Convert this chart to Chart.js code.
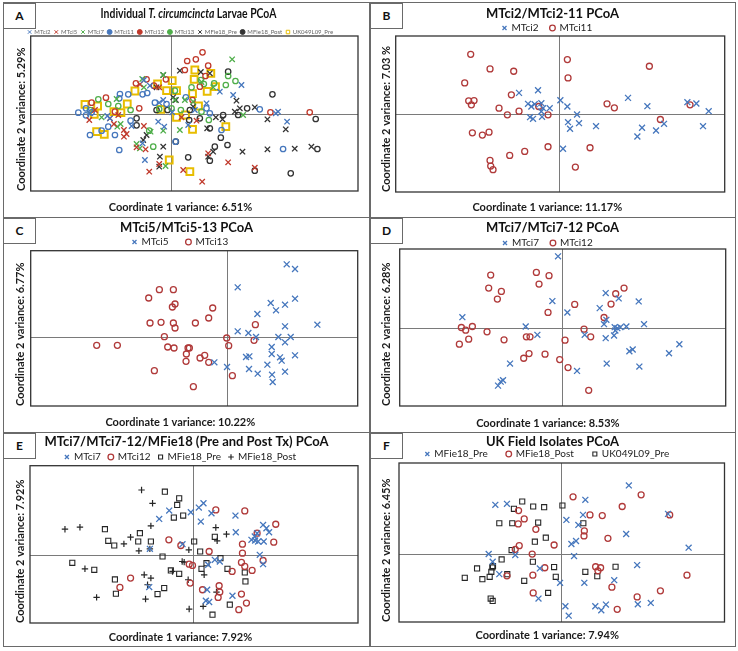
<!DOCTYPE html>
<html>
<head>
<meta charset="utf-8">
<script src="https://cdn.jsdelivr.net/npm/chart.js@4/dist/chart.umd.min.js"></script>
<style>
html, body { margin: 0; padding: 0; background: #fff; }
canvas { position: absolute; }
.line { position: absolute; background: #6a6a6a; }
.frame { position: absolute; box-sizing: border-box; border: 1.5px solid #6a6a6a; }
.letter { position: absolute; box-sizing: border-box; width: 33px; height: 26px; border: 1.5px solid #6a6a6a;
  font: bold 12px Lato, "Liberation Sans", sans-serif; color: #111; text-align: center; line-height: 23px; background: #fff; }
</style>
</head>
<body>
<canvas id="panel-a"></canvas>
<canvas id="panel-b"></canvas>
<canvas id="panel-c"></canvas>
<canvas id="panel-d"></canvas>
<canvas id="panel-e"></canvas>
<canvas id="panel-f"></canvas>

<div class="frame" style="left:2.5px;top:2px;width:733.5px;height:644.5px"></div>
<div class="line" style="left:369.3px;top:3px;width:1.5px;height:643px"></div>
<div class="line" style="left:3px;top:216.5px;width:732px;height:1.5px"></div>
<div class="line" style="left:3px;top:431.5px;width:732px;height:1.5px"></div>
<div class="letter" style="left:3px;top:3px">A</div>
<div class="letter" style="left:370px;top:3px">B</div>
<div class="letter" style="left:3px;top:217.5px">C</div>
<div class="letter" style="left:370px;top:217.5px">D</div>
<div class="letter" style="left:3px;top:432.5px">E</div>
<div class="letter" style="left:370px;top:432.5px">F</div>

<script>
"use strict";

/* PANEL A - individual larvae */
const aRangeX = [-4.21, 5.62];
const aRangeY = [-2.31, 2.34];
const aMtci2 = [[-0.81,1.02],[-0.63,0.85],[2.12,0.87],[1.47,0.67],[1.87,0.57],[3.22,0.07],[3.15,0.02],[3.49,-0.23],[-0.23,0.42],[-0.35,0.34],[-0.20,-0.38],[-0.38,-0.23],[-1.83,-0.13],[-1.91,-0.06],[-0.78,-1.38],[-0.85,-0.88],[0.04,0.05],[0.52,-0.33],[-2.43,0.02],[-1.18,-0.36],[1.07,0.32],[0.72,0.12]];
const aMtci5 = [[-2.45,-0.18],[-1.83,-0.13],[-1.71,-0.30],[-1.41,-0.48],[-1.33,-0.60],[-1.41,-0.68],[-0.81,-0.36],[-1.03,-1.00],[-0.76,-1.06],[-0.65,-1.73],[0.37,-1.68],[0.94,-2.03],[1.72,-1.45],[2.52,-1.61],[1.12,-1.18],[0.77,-0.20],[-0.35,-1.50],[-0.93,0.89],[-0.35,0.80],[0.32,-0.10],[-2.28,0.12],[-1.58,-0.03]];
const aMtci7 = [[1.84,1.64],[-0.86,1.05],[-0.23,1.17],[-0.81,0.80],[-1.63,0.45],[0.12,0.42],[2.17,-0.03],[0.92,0.96],[0.27,-0.48],[-0.61,-0.53],[-1.03,-0.90],[-0.16,-1.56],[-1.61,-0.38],[-1.51,-0.30],[-0.23,-0.50],[0.67,0.37],[-2.08,-0.10],[1.27,0.80],[0.42,0.42],[-0.93,-1.03]];
const aMtci11 = [[-2.78,0.04],[-2.55,-0.04],[-2.38,0.05],[-1.53,0.60],[-1.28,0.59],[-0.85,0.59],[-0.71,0.63],[-2.43,-0.63],[-1.55,-1.08],[-2.08,-0.50],[-1.88,-0.38],[-1.68,-0.63],[-0.48,0.34],[-0.13,0.30],[1.07,0.17],[1.17,0.02],[1.52,-0.48],[2.67,0.14],[3.37,-1.05],[0.14,-0.83],[-1.21,-0.20],[-2.55,0.17],[-1.55,0.47],[0.45,0.50]];
const aMtci12 = [[0.95,1.85],[0.49,1.59],[0.75,1.64],[1.12,1.45],[0.42,1.32],[-1.05,0.92],[-0.73,1.04],[-1.95,0.49],[-2.38,0.34],[-0.95,0.17],[-0.51,0.85],[2.99,0.05],[4.17,0.05],[1.04,1.14],[0.65,0.42],[0.87,0.82],[-1.68,0.07],[-0.15,1.04]];
const aMtci13 = [[-2.18,0.44],[-2.43,0.12],[-1.88,0.30],[-1.21,0.12],[-0.53,-0.98],[0.02,0.17],[1.72,1.14],[1.94,0.99],[1.30,0.92],[1.65,0.87],[0.90,1.02],[0.99,0.90],[0.30,0.12],[0.92,0.07],[1.14,-0.18],[-0.65,-0.50],[-1.58,0.24],[-0.35,0.15],[0.12,0.70],[0.62,0.80]];
const aMfie18Pre = [[0.27,1.30],[-0.23,1.17],[0.90,1.26],[1.17,1.22],[0.15,0.42],[0.07,0.50],[1.97,0.40],[2.07,0.17],[2.52,0.20],[2.90,-0.16],[3.45,-0.46],[1.35,-0.10],[1.55,-0.16],[1.09,-0.43],[1.92,0.07],[-0.73,-0.63],[-0.83,-0.78],[-0.23,-0.98],[-0.33,-1.28],[-0.35,-1.58],[1.27,-1.13],[2.15,-1.13],[2.90,-1.06],[3.72,-1.04],[4.22,-0.98],[1.12,-1.28],[-0.43,0.80],[0.67,0.22]];
const aMfie18Post = [[1.72,1.27],[3.05,0.59],[2.29,0.17],[2.02,-0.03],[4.35,-0.15],[-1.03,-0.13],[-1.03,-0.34],[-0.43,0.12],[-0.10,0.12],[0.57,0.12],[0.55,-0.18],[1.17,-0.43],[1.50,-0.71],[1.70,-0.93],[1.32,-0.98],[1.17,-1.40],[0.52,-1.30],[2.52,-1.70],[3.60,-1.78],[4.40,-1.05],[0.87,-0.13],[0.15,-0.83],[1.57,-0.03]];
const aUk049l09Pre = [[-2.58,0.29],[-2.20,0.24],[-2.30,-0.01],[-1.71,0.07],[-1.31,0.30],[-1.08,0.69],[-1.50,0.04],[-2.23,-0.53],[-2.00,-0.61],[-0.40,0.90],[0.04,1.00],[-0.13,0.70],[0.17,0.70],[0.65,0.61],[0.72,1.32],[0.70,1.04],[1.20,1.22],[1.34,0.82],[1.09,0.68],[0.83,0.24],[-0.30,0.14],[0.17,-0.10],[0.44,-0.03],[0.65,-0.46],[1.65,-0.38],[-0.05,-1.38],[0.57,-1.73]];

/* PANEL B - MTci2 / MTci11 */
const bRangeX = [-4.90, 4.97];
const bRangeY = [-2.35, 2.34];
const bMtci2 = [[-1.20,0.63],[-0.63,0.71],[-0.93,0.30],[-0.73,0.29],[-0.53,0.32],[-0.83,0.22],[-0.48,0.17],[-0.28,0.17],[-0.87,-0.10],[-0.78,-0.15],[-0.51,-0.09],[-0.53,0.07],[0.04,0.41],[0.25,0.22],[0.54,-0.02],[0.27,-0.25],[0.60,-0.28],[0.33,-0.45],[1.11,-0.37],[2.07,0.48],[2.65,0.23],[3.85,0.35],[4.12,0.31],[4.49,0.08],[4.32,-0.37],[3.15,-0.30],[2.91,-0.50],[2.49,-0.42],[2.35,-0.68],[0.12,-1.05]];
const bMtci11 = [[-2.65,1.79],[-2.07,1.35],[-1.36,1.28],[-2.83,0.93],[0.25,1.63],[0.27,1.08],[2.71,1.43],[-1.43,0.57],[-2.71,0.39],[-2.55,0.40],[-2.63,0.27],[-1.80,0.17],[-1.55,-0.03],[-1.20,0.08],[-0.61,0.22],[-0.33,-0.03],[1.44,0.30],[1.66,0.18],[3.93,0.27],[3.04,-0.17],[-2.60,-0.57],[-2.30,-0.64],[-2.10,-0.55],[-0.33,-0.99],[-1.03,-1.13],[-1.48,-1.25],[-2.07,-1.40],[-2.05,-1.57],[-1.98,-1.68],[0.49,-1.60],[0.93,-1.02]];

/* PANEL C - MTci5 / MTci13 */
const cRangeX = [-5.89, 3.92];
const cRangeY = [-2.07, 2.59];
const cMtci5 = [[1.79,2.18],[2.04,2.04],[0.32,1.49],[1.31,1.02],[1.74,0.97],[2.04,1.15],[1.47,0.80],[0.91,0.69],[1.74,0.32],[2.71,0.37],[0.32,0.17],[0.64,0.12],[0.87,0.00],[1.54,0.00],[1.91,0.00],[1.74,-0.16],[1.34,-0.30],[1.34,-0.51],[1.59,-0.61],[1.64,-0.71],[2.04,-0.55],[0.57,-0.60],[0.67,-0.58],[-0.38,-0.76],[0.00,-0.90],[0.66,-0.96],[0.92,-1.10],[1.21,-0.83],[1.35,-1.13],[1.37,-1.35],[1.74,-1.04]];
const cMtci13 = [[-2.03,1.42],[-1.61,1.42],[-2.35,1.17],[-1.56,0.99],[-1.64,0.90],[-0.43,0.87],[-0.55,0.57],[-2.31,0.42],[-1.98,0.44],[-1.61,0.42],[-1.56,0.27],[-0.95,0.42],[-1.88,0.01],[-3.91,-0.25],[-3.29,-0.25],[-1.78,-0.30],[-1.59,-0.33],[-1.17,-0.33],[-1.13,-0.33],[-1.22,-0.51],[-0.67,-0.55],[-0.81,-0.63],[-1.23,-0.73],[-0.55,-0.76],[-2.18,-1.01],[-1.01,-1.49],[-0.01,-0.03],[0.05,-0.26],[0.16,-1.16],[0.85,0.37],[0.81,-0.10]];

/* PANEL D - MTci7 / MTci12 */
const dRangeX = [-4.88, 4.90];
const dRangeY = [-2.35, 2.35];
const dMtci7 = [[-0.13,2.13],[-0.30,0.79],[0.15,0.45],[-3.00,0.31],[-1.10,0.03],[-0.75,-0.22],[1.30,1.03],[1.69,0.87],[2.29,0.78],[1.12,0.58],[1.32,0.23],[1.25,0.10],[1.57,0.01],[1.65,-0.02],[1.74,0.01],[1.92,0.03],[2.45,0.10],[0.67,-0.22],[1.30,-0.32],[1.55,-0.24],[1.59,-0.09],[2.01,-0.71],[2.11,-0.66],[3.20,-0.77],[3.51,-0.50],[1.33,-1.08],[2.31,-1.17],[0.44,-1.30],[-1.57,-1.08],[-1.78,-1.58],[-1.85,-1.62],[-1.93,-1.74]];
const dMtci12 = [[-2.15,1.57],[-0.78,1.65],[-0.40,1.55],[-2.21,1.18],[-1.83,1.08],[-0.70,1.30],[-1.95,0.85],[-0.43,0.45],[0.37,0.69],[-3.03,0.00],[-2.90,-0.08],[-2.70,0.03],[-2.26,-0.13],[-2.81,-0.35],[-3.09,-0.50],[-1.75,-0.37],[-1.08,-0.28],[-0.97,-0.28],[-0.52,-0.80],[-1.00,-0.78],[-1.16,-0.92],[-0.08,-0.96],[0.17,-1.20],[0.08,-0.38],[0.65,-0.05],[0.85,-0.28],[0.79,-1.88],[1.25,0.30],[1.46,0.70],[1.60,1.01],[1.85,1.18]];

/* PANEL E - MTci7 / MTci12 / MFie18 */
const eRangeX = [-4.90, 4.95];
const eRangeY = [-2.05, 2.68];
const eMtci7 = [[-1.02,1.08],[-0.72,1.33],[-0.07,1.28],[0.17,1.42],[0.31,1.55],[0.55,1.25],[0.23,1.00],[1.27,1.18],[1.28,0.68],[2.10,0.90],[2.20,0.80],[2.28,0.68],[1.92,0.65],[1.85,0.55],[1.75,0.45],[1.95,0.40],[2.12,0.40],[1.86,0.43],[2.00,0.00],[2.10,-0.28],[0.80,-0.20],[0.65,-0.15],[0.45,-0.30],[-0.32,0.32],[-1.30,0.18],[-1.32,-0.97],[0.42,-1.05],[0.38,-1.38],[0.48,-1.42],[1.18,-1.23]];
const eMtci12 = [[0.68,1.35],[1.55,1.32],[2.48,0.92],[1.92,0.65],[2.42,0.38],[-0.73,0.45],[-0.37,0.28],[0.48,0.10],[1.48,0.32],[1.48,0.05],[1.45,-0.23],[2.10,-0.17],[1.55,-0.35],[1.77,-0.47],[1.17,-0.50],[-0.12,-0.28],[-0.02,-0.32],[-0.09,-0.85],[0.28,-1.05],[0.78,-0.93],[0.80,-1.12],[0.75,-1.28],[1.45,-1.18],[1.60,-1.45],[1.37,-1.65],[-1.88,-0.70],[-2.20,-0.98]];
const eMfie18Pre = [[-0.85,1.90],[-0.42,1.70],[-0.48,1.50],[-0.58,1.12],[-0.30,1.18],[-2.65,0.77],[-1.60,0.65],[-2.55,0.42],[-2.37,0.28],[-1.65,0.40],[-1.27,0.40],[-0.92,-0.05],[0.03,0.40],[0.21,0.10],[-3.63,-0.24],[-2.97,-0.45],[-0.67,-0.47],[-0.42,-0.57],[-2.35,-0.74],[-2.32,-1.17],[-1.07,-1.18],[-0.87,-1.00],[0.40,-0.25],[0.25,-0.42],[0.82,-0.10],[1.03,-0.42],[1.55,-0.53],[1.57,-0.80],[0.65,0.54],[1.10,-1.50],[0.58,-1.80]];
const eMfie18Post = [[-1.55,1.95],[-1.22,1.55],[-3.85,0.77],[-3.40,0.83],[-1.27,0.87],[-1.88,0.53],[-2.08,0.33],[-1.63,0.12],[-1.30,0.18],[-0.13,0.15],[-0.33,-0.20],[-0.27,-0.22],[-3.25,-0.42],[-1.47,-0.60],[-1.27,-0.70],[-1.37,-0.90],[-0.62,-0.50],[-0.15,-0.75],[-1.43,-1.33],[-2.90,-1.28],[-0.12,-1.63],[0.30,-1.55],[0.33,-0.60],[0.70,-1.12],[0.68,0.82],[1.00,0.62],[0.72,0.42]];

/* PANEL F - UK field isolates */
const fRangeX = [-4.89, 4.91];
const fRangeY = [-2.02, 2.73];
const fMfie18Pre = [[2.03,2.06],[0.72,1.63],[-1.99,1.48],[-1.64,1.51],[0.15,1.03],[0.65,1.18],[0.51,0.88],[3.21,1.21],[3.83,0.20],[1.95,0.61],[0.44,0.40],[0.30,0.31],[0.38,-0.05],[-2.19,0.01],[-2.07,-0.22],[-1.39,-0.02],[-0.65,-0.42],[-1.87,-0.59],[0.69,-0.85],[-0.04,-0.85],[1.59,-0.77],[2.28,-0.32],[-0.69,-1.32],[0.12,-1.55],[0.22,-1.83],[1.02,-1.55],[1.20,-1.67],[1.34,-1.50],[2.30,-1.49],[2.69,-1.45]];
const fMfie18Post = [[0.35,1.72],[2.40,1.78],[1.83,1.43],[-1.29,1.31],[-1.12,1.06],[-1.30,0.91],[-0.77,0.75],[0.86,1.18],[1.23,1.16],[3.26,1.18],[0.69,0.70],[0.68,0.55],[1.40,0.48],[-1.27,0.26],[-1.39,0.15],[-0.22,0.28],[-0.88,0.01],[-0.50,-0.40],[1.03,-0.37],[1.18,-0.40],[1.10,-0.49],[-1.64,-0.64],[-0.86,-0.62],[1.52,-0.98],[-0.85,-1.15],[2.28,-1.27],[2.98,-1.09],[3.78,-0.62],[1.68,-1.64]];
const fUk049l09Pre = [[-1.18,1.58],[-1.43,1.36],[-0.85,1.43],[-0.52,1.41],[0.03,1.46],[-1.87,0.93],[-1.48,0.93],[-0.70,0.95],[0.66,0.93],[-0.47,0.50],[-0.80,0.38],[-1.50,0.13],[-1.80,-0.15],[-0.86,-0.22],[-2.06,-0.35],[-2.08,-0.39],[-2.54,-0.42],[-2.11,-0.52],[-1.63,-0.59],[-2.91,-0.70],[-2.38,-0.74],[-2.16,-0.67],[-1.12,-0.79],[-0.22,-0.38],[-0.17,-0.67],[-0.40,-1.15],[0.72,-0.52],[1.08,-0.65],[1.63,-0.37],[-2.13,-1.32],[-2.07,-1.39]];

const FONT = 'Lato, "Liberation Sans", sans-serif';
const BLUE = "#4677bd";
const RED = "#b03a3a";
const RED_A = "#c0392b";
const GREEN = "#4fae4a";
const BLACK = "#262626";
const GOLD = "#e8bd00";

Chart.defaults.font.family = FONT;

function cross(label, data, color, r) {
	return {label, data, pointStyle: "crossRot", pointRadius: r || 4.2, borderColor: color, backgroundColor: color, borderWidth: 1.3};
}
function ring(label, data, color, r) {
	return {label, data, pointStyle: "circle", pointRadius: r || 3, borderColor: color, backgroundColor: "rgba(0,0,0,0)", borderWidth: 1.3};
}
function square(label, data, color, r, w) {
	return {label, data, pointStyle: "rect", pointRadius: r || 3.6, borderColor: color, backgroundColor: "rgba(0,0,0,0)", borderWidth: w || 1.1};
}
function plus(label, data, color) {
	return {label, data, pointStyle: "cross", pointRadius: 3.2, borderColor: color, backgroundColor: color, borderWidth: 1.2};
}

// panel A legend shows the circle series as small solid dots
function dotLabels(chart) {
	const items = Chart.defaults.plugins.legend.labels.generateLabels(chart);
	items.forEach(item => {
		if (item.pointStyle === "circle") item.fillStyle = item.strokeStyle;
		item.lineWidth = 1;
	});
	return items;
}

// draws the panel title, the plot box and the zero lines
const panelDecor = {
	id: "panelDecor",
	beforeDatasetsDraw(chart, args, opts) {
		const {ctx, chartArea: a} = chart;
		ctx.save();
		ctx.strokeStyle = "#7a7a7a";
		ctx.lineWidth = 1;
		const x0 = Math.round(chart.scales.x.getPixelForValue(0)) + 0.5;
		const y0 = Math.round(chart.scales.y.getPixelForValue(0)) + 0.5;
		ctx.beginPath();
		ctx.moveTo(x0, a.top); ctx.lineTo(x0, a.bottom);
		ctx.moveTo(a.left, y0); ctx.lineTo(a.right, y0);
		ctx.stroke();
		ctx.strokeStyle = "#333";
		ctx.lineWidth = 1.3;
		ctx.strokeRect(a.left, a.top, a.right - a.left, a.bottom - a.top);

		// title, with italic runs
		const runs = opts.title;
		const sx = opts.scaleX || 1;
		ctx.fillStyle = "#111";
		ctx.textBaseline = "middle";
		ctx.textAlign = "left";
		let total = 0;
		runs.forEach(r => {
			ctx.font = r[1] + " 13px " + FONT;
			total += ctx.measureText(r[0]).width;
		});
		ctx.translate(opts.x, opts.y);
		ctx.scale(sx, 1);
		let x = -total / 2;
		runs.forEach(r => {
			ctx.font = r[1] + " 13px " + FONT;
			ctx.fillText(r[0], x, 0);
			x += ctx.measureText(r[0]).width;
		});
		ctx.restore();
	}
};

function drawPanel(p) {
	const canvas = document.getElementById(p.id);
	const [cx, cy, W, H] = p.cell;
	canvas.width = W;
	canvas.height = H;
	canvas.style.left = cx + "px";
	canvas.style.top = cy + "px";

	const plotL = p.plot[0] - cx, plotT = p.plot[1] - cy, plotR = p.plot[2] - cx, plotB = p.plot[3] - cy;
	const axisFont = {size: 11, weight: "bold"};
	const lh = 11 * 1.2;
	const legendTop = (p.legendY - cy) - p.legendPad - p.legendSize / 2;
	const subPad = H - (p.xTitleY - cy) - lh / 2;
	const xAxisHeight = H - (lh + subPad) - plotB;

	const legendLabels = {usePointStyle: true, boxWidth: p.legendBox, boxHeight: p.legendBox, padding: p.legendPad,
		font: {size: p.legendSize}, color: p.legendColor};
	if (p.dotLegend) legendLabels.generateLabels = dotLabels;

	new Chart(canvas.getContext("2d"), {
		type: "scatter",
		data: {datasets: p.datasets},
		options: {
			responsive: false,
			animation: false,
			devicePixelRatio: 1,
			layout: {padding: {top: legendTop, left: 0, right: W - plotR, bottom: 0}},
			plugins: {
				title: {display: false},
				subtitle: {display: true, position: "bottom", text: p.xTitle, font: axisFont, color: "#1a1a1a", padding: {top: 0, bottom: subPad}},
				legend: {position: "top", maxHeight: plotT - legendTop, labels: legendLabels},
				tooltip: {enabled: false},
				panelDecor: {title: p.title, x: W / 2 + (p.titleShift || 0), y: p.titleY - cy, scaleX: p.titleScaleX}
			},
			scales: {
				x: {type: "linear", min: p.rangeX[0], max: p.rangeX[1],
					ticks: {display: false}, grid: {display: false}, border: {display: false},
					afterFit(s) { s.height = xAxisHeight; }},
				y: {type: "linear", min: p.rangeY[0], max: p.rangeY[1],
					ticks: {display: false}, grid: {display: false}, border: {display: false},
					title: {display: true, text: p.yTitle, align: "start", font: axisFont, color: "#1a1a1a",
						padding: {top: (p.yTitleX - cx) - lh / 2, bottom: 0}},
					afterFit(s) { s.width = plotL; }}
			}
		},
		plugins: [panelDecor]
	});
}

drawPanel({
	id: "panel-a", cell: [3, 3, 367, 214], plot: [30.7, 36, 358, 191],
	title: [["Individual ", "bold"], ["T. circumcincta", "italic bold"], [" Larvae PCoA", "bold"]],
	titleY: 14, titleShift: 2, titleScaleX: 0.8, legendY: 32, xTitleY: 207, yTitleX: 21,
	legendSize: 6, legendPad: 4, legendBox: 3.5, legendColor: "#666", dotLegend: true,
	xTitle: "Coordinate 1 variance: 6.51%", yTitle: "Coordinate 2 variance: 5.29%",
	rangeX: aRangeX, rangeY: aRangeY,
	datasets: [
		cross("MTci2", aMtci2, BLUE, 3.8),
		cross("MTci5", aMtci5, RED_A, 3.8),
		cross("MTci7", aMtci7, GREEN, 3.8),
		ring("MTci11", aMtci11, BLUE, 2.7),
		ring("MTci12", aMtci12, RED_A, 2.7),
		ring("MTci13", aMtci13, GREEN, 2.7),
		cross("MFie18_Pre", aMfie18Pre, "#333", 3.8),
		ring("MFie18_Post", aMfie18Post, "#333", 2.7),
		square("UK049L09_Pre", aUk049l09Pre, GOLD, 4.8, 2)
	]
});

drawPanel({
	id: "panel-b", cell: [370, 3, 365, 214], plot: [395.7, 36, 724.7, 192],
	title: [["MTci2/MTci2-11 PCoA", "bold"]],
	titleY: 14, legendY: 28, xTitleY: 207, yTitleX: 386,
	legendSize: 10, legendPad: 12, legendBox: 4, legendColor: "#222",
	xTitle: "Coordinate 1 variance: 11.17%", yTitle: "Coordinate 2 variance: 7.03 %",
	rangeX: bRangeX, rangeY: bRangeY,
	datasets: [cross("MTci2", bMtci2, BLUE), ring("MTci11", bMtci11, RED)]
});

drawPanel({
	id: "panel-c", cell: [3, 217, 367, 215], plot: [30.7, 250.7, 357.7, 406],
	title: [["MTci5/MTci5-13 PCoA", "bold"]],
	titleY: 228, legendY: 242, xTitleY: 422, yTitleX: 20,
	legendSize: 10, legendPad: 18, legendBox: 4, legendColor: "#222",
	xTitle: "Coordinate 1 variance: 10.22%", yTitle: "Coordinate 2 variance: 6.77%",
	rangeX: cRangeX, rangeY: cRangeY,
	datasets: [cross("MTci5", cMtci5, BLUE), ring("MTci13", cMtci13, RED)]
});

drawPanel({
	id: "panel-d", cell: [370, 217, 365, 215], plot: [399.7, 249, 725.7, 406],
	title: [["MTci7/MTci7-12 PCoA", "bold"]],
	titleY: 228, legendY: 243, xTitleY: 423, yTitleX: 386,
	legendSize: 10, legendPad: 12, legendBox: 4, legendColor: "#222",
	xTitle: "Coordinate 1 variance: 8.53%", yTitle: "Coordinate 2 variance: 6.28%",
	rangeX: dRangeX, rangeY: dRangeY,
	datasets: [cross("MTci7", dMtci7, BLUE), ring("MTci12", dMtci12, RED)]
});

drawPanel({
	id: "panel-e", cell: [3, 432, 367, 214], plot: [30, 465.7, 358, 623],
	title: [["MTci7/MTci7-12/MFie18 (Pre and Post Tx) PCoA", "bold"]],
	titleY: 442, legendY: 457, xTitleY: 637, yTitleX: 20,
	legendSize: 10, legendPad: 8, legendBox: 4, legendColor: "#222",
	xTitle: "Coordinate 1 variance: 7.92%", yTitle: "Coordinate 2 variance: 7.92%",
	rangeX: eRangeX, rangeY: eRangeY,
	datasets: [
		cross("MTci7", eMtci7, BLUE),
		ring("MTci12", eMtci12, RED),
		square("MFie18_Pre", eMfie18Pre, BLACK),
		plus("MFie18_Post", eMfie18Post, BLACK)
	]
});

drawPanel({
	id: "panel-f", cell: [370, 432, 365, 214], plot: [399, 463, 724.5, 622],
	title: [["UK Field Isolates PCoA", "bold"]],
	titleY: 442, legendY: 454, xTitleY: 635, yTitleX: 386,
	legendSize: 10, legendPad: 19, legendBox: 4, legendColor: "#222",
	xTitle: "Coordinate 1 variance: 7.94%", yTitle: "Coordinate 2 variance: 6.45%",
	rangeX: fRangeX, rangeY: fRangeY,
	datasets: [
		cross("MFie18_Pre", fMfie18Pre, BLUE),
		ring("MFie18_Post", fMfie18Post, RED),
		square("UK049L09_Pre", fUk049l09Pre, BLACK)
	]
});
</script>
</body>
</html>
